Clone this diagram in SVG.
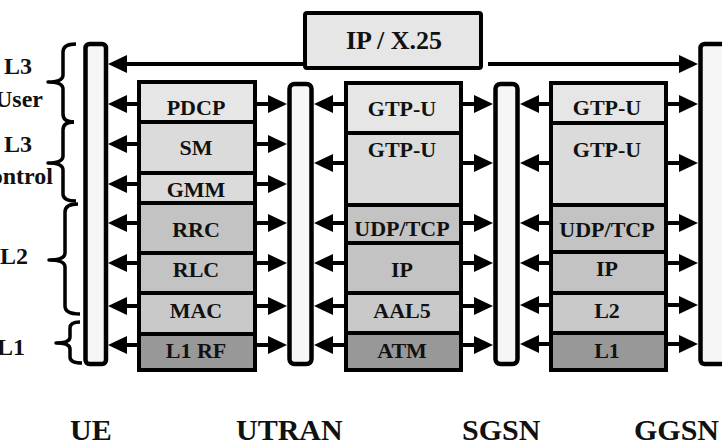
<svg xmlns="http://www.w3.org/2000/svg" width="722" height="446" viewBox="0 0 722 446">
<style>
text{font-family:"Liberation Serif","Times New Roman",serif;font-weight:bold;fill:#111}
.lbl{font-size:22px;text-anchor:middle}
.side{font-size:24px;text-anchor:end}
.node{font-size:30px}
.bar{fill:#f6f6f6;stroke:#000;stroke-width:4.5}
.cell{stroke:#000;stroke-width:4}
.c1{fill:#e6e6e6}.c2{fill:#dbdbdb}.c3{fill:#c3c3c3}.c4{fill:#c9c9c9}.c5{fill:#989898}
.brace{fill:none;stroke:#000;stroke-width:3.5;stroke-linejoin:round}
.conn line{stroke:#000;stroke-width:4}
</style>
<defs>
<marker id="ah" viewBox="0 0 19 18" refX="0" refY="9" markerWidth="19" markerHeight="18" markerUnits="userSpaceOnUse" orient="auto">
<path d="M0,0 L19,9 L0,18 Z" fill="#000"/>
</marker>
</defs>
<rect width="722" height="446" fill="#fff"/>

<g id="layer-labels">
<text class="side" x="32" y="74">L3</text>
<text class="side" x="43" y="107">User</text>
<text class="side" x="32" y="152">L3</text>
<text class="side" x="53" y="184">Control</text>
<text class="side" x="28" y="264">L2</text>
<text class="side" x="25" y="355">L1</text>
<path class="brace" d="M76,44 Q63,44 63,52 L63,75 Q63,82 48,82 Q63,82 63,89 L63,114 Q63,122 74,122"/>
<path class="brace" d="M74,122 Q63,122 63,130 L63,156 Q63,163 48,163 Q63,163 63,170 L63,194 Q63,201 76,201"/>
<path class="brace" d="M78,204 Q65,204 65,212 L65,253 Q65,260 49,260 Q65,260 65,267 L65,306 Q65,314 80,314"/>
<path class="brace" d="M80,322 Q70,322 70,328 L70,337 Q70,343 56,343 Q70,343 70,349 L70,357 Q70,363 82,363"/>
</g>

<g id="ue">
<rect class="bar" x="85.5" y="44" width="20.5" height="320" rx="4"/>
<text class="node" x="70" y="440">UE</text>
</g>
<g id="utran">
<rect class="bar" x="289.5" y="84" width="22" height="280" rx="5"/>
<text class="node" x="236" y="440">UTRAN</text>
</g>
<g id="sgsn">
<rect class="bar" x="495.5" y="84" width="22" height="280" rx="5"/>
<text class="node" x="462" y="440">SGSN</text>
</g>
<g id="ggsn">
<rect class="bar" x="700.5" y="44" width="26" height="320" rx="4"/>
<text class="node" x="634" y="440">GGSN</text>
</g>

<g id="ip-x25">
<rect x="305" y="13" width="176" height="55" rx="2" fill="#e6e6e6" stroke="#000" stroke-width="4"/>
<text x="394" y="49" style="font-size:26px;text-anchor:middle">IP / X.25</text>
</g>

<g id="ue-stack">
<rect class="cell c1" x="139" y="82" width="116" height="40"/>
<rect class="cell c2" x="139" y="122" width="116" height="51"/>
<rect class="cell c2" x="139" y="173" width="116" height="30"/>
<rect class="cell c3" x="139" y="203" width="116" height="50"/>
<rect class="cell c3" x="139" y="253" width="116" height="40"/>
<rect class="cell c4" x="139" y="293" width="116" height="41"/>
<rect class="cell c5" x="139" y="334" width="116" height="36"/>
<text class="lbl" x="196" y="115">PDCP</text>
<text class="lbl" x="196" y="155">SM</text>
<text class="lbl" x="196" y="197">GMM</text>
<text class="lbl" x="196" y="237">RRC</text>
<text class="lbl" x="196" y="277">RLC</text>
<text class="lbl" x="196" y="318">MAC</text>
<text class="lbl" x="196" y="358">L1 RF</text>
</g>

<g id="sgsn-stack">
<rect class="cell c1" x="346" y="83" width="115" height="50"/>
<rect class="cell c2" x="346" y="133" width="115" height="72"/>
<rect class="cell c3" x="346" y="205" width="115" height="38"/>
<rect class="cell c3" x="346" y="243" width="115" height="50"/>
<rect class="cell c4" x="346" y="293" width="115" height="40"/>
<rect class="cell c5" x="346" y="333" width="115" height="37"/>
<text class="lbl" x="402" y="116">GTP-U</text>
<text class="lbl" x="402" y="157">GTP-U</text>
<text class="lbl" x="402" y="236">UDP/TCP</text>
<text class="lbl" x="402" y="277">IP</text>
<text class="lbl" x="402" y="318">AAL5</text>
<text class="lbl" x="402" y="358">ATM</text>
</g>

<g id="ggsn-stack">
<rect class="cell c1" x="551" y="83" width="115" height="40"/>
<rect class="cell c2" x="551" y="123" width="115" height="82"/>
<rect class="cell c3" x="551" y="205" width="115" height="47"/>
<rect class="cell c3" x="551" y="252" width="115" height="41"/>
<rect class="cell c4" x="551" y="293" width="115" height="40"/>
<rect class="cell c5" x="551" y="333" width="115" height="37"/>
<text class="lbl" x="607" y="115">GTP-U</text>
<text class="lbl" x="607" y="157">GTP-U</text>
<text class="lbl" x="607" y="237">UDP/TCP</text>
<text class="lbl" x="607" y="276">IP</text>
<text class="lbl" x="607" y="318">L2</text>
<text class="lbl" x="607" y="358">L1</text>
</g>

<g id="connectors" class="conn">
<line x1="303" y1="64" x2="127" y2="64" marker-end="url(#ah)"/>
<line x1="488" y1="64" x2="679" y2="64" marker-end="url(#ah)"/>

<line x1="137" y1="104" x2="127" y2="104" marker-end="url(#ah)"/>
<line x1="137" y1="144" x2="127" y2="144" marker-end="url(#ah)"/>
<line x1="137" y1="184" x2="127" y2="184" marker-end="url(#ah)"/>
<line x1="137" y1="223" x2="127" y2="223" marker-end="url(#ah)"/>
<line x1="137" y1="263" x2="127" y2="263" marker-end="url(#ah)"/>
<line x1="137" y1="306" x2="127" y2="306" marker-end="url(#ah)"/>
<line x1="137" y1="345" x2="127" y2="345" marker-end="url(#ah)"/>

<line x1="257" y1="104" x2="268" y2="104" marker-end="url(#ah)"/>
<line x1="257" y1="144" x2="268" y2="144" marker-end="url(#ah)"/>
<line x1="257" y1="184" x2="268" y2="184" marker-end="url(#ah)"/>
<line x1="257" y1="223" x2="268" y2="223" marker-end="url(#ah)"/>
<line x1="257" y1="263" x2="268" y2="263" marker-end="url(#ah)"/>
<line x1="257" y1="306" x2="268" y2="306" marker-end="url(#ah)"/>
<line x1="257" y1="345" x2="268" y2="345" marker-end="url(#ah)"/>

<line x1="344" y1="104" x2="333" y2="104" marker-end="url(#ah)"/>
<line x1="344" y1="163" x2="333" y2="163" marker-end="url(#ah)"/>
<line x1="344" y1="223" x2="333" y2="223" marker-end="url(#ah)"/>
<line x1="344" y1="263" x2="333" y2="263" marker-end="url(#ah)"/>
<line x1="344" y1="306" x2="333" y2="306" marker-end="url(#ah)"/>
<line x1="344" y1="345" x2="333" y2="345" marker-end="url(#ah)"/>

<line x1="463" y1="104" x2="474" y2="104" marker-end="url(#ah)"/>
<line x1="463" y1="163" x2="474" y2="163" marker-end="url(#ah)"/>
<line x1="463" y1="223" x2="474" y2="223" marker-end="url(#ah)"/>
<line x1="463" y1="263" x2="474" y2="263" marker-end="url(#ah)"/>
<line x1="463" y1="306" x2="474" y2="306" marker-end="url(#ah)"/>
<line x1="463" y1="345" x2="474" y2="345" marker-end="url(#ah)"/>

<line x1="549" y1="104" x2="539" y2="104" marker-end="url(#ah)"/>
<line x1="549" y1="163" x2="539" y2="163" marker-end="url(#ah)"/>
<line x1="549" y1="223" x2="539" y2="223" marker-end="url(#ah)"/>
<line x1="549" y1="263" x2="539" y2="263" marker-end="url(#ah)"/>
<line x1="549" y1="305" x2="539" y2="305" marker-end="url(#ah)"/>
<line x1="549" y1="344" x2="539" y2="344" marker-end="url(#ah)"/>

<line x1="668" y1="104" x2="679" y2="104" marker-end="url(#ah)"/>
<line x1="668" y1="163" x2="679" y2="163" marker-end="url(#ah)"/>
<line x1="668" y1="223" x2="679" y2="223" marker-end="url(#ah)"/>
<line x1="668" y1="263" x2="679" y2="263" marker-end="url(#ah)"/>
<line x1="668" y1="305" x2="679" y2="305" marker-end="url(#ah)"/>
<line x1="668" y1="344" x2="679" y2="344" marker-end="url(#ah)"/>
</g>
</svg>
